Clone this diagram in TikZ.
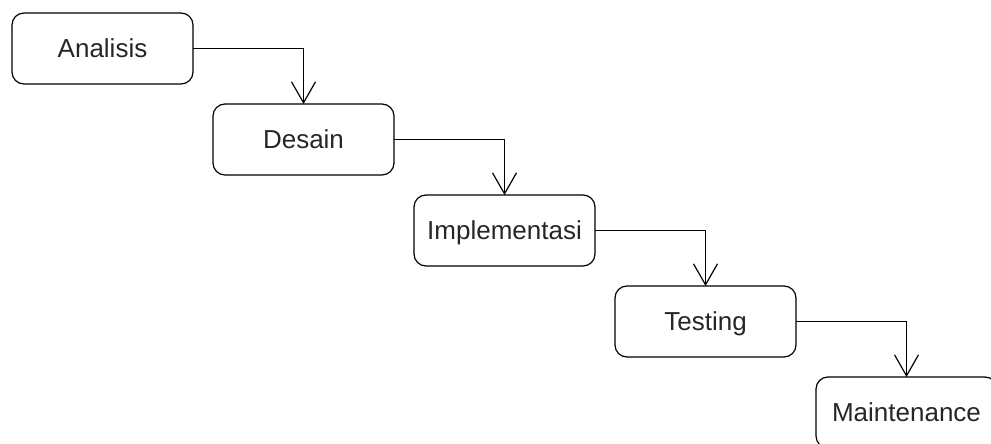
\documentclass[tikz,border=0pt]{standalone}
\usepackage{fontspec}
\setmainfont{Liberation Sans}
\usetikzlibrary{arrows.meta, positioning}

\begin{document}
\begin{tikzpicture}[node distance=20pt, every node/.style={font=\fontsize{26}{31}\selectfont}]
    \tikzstyle{stage} = [rectangle, rounded corners=12pt, draw=black, line width=1.2pt, minimum width=181pt, minimum height=71pt, text height=18.5pt, text depth=0pt, inner sep=0pt, outer sep=0pt, align=center, text=black!85]
    \tikzstyle{flow} = [-{Straight Barb[length=21pt,width=24pt]}, line width=1.2pt]

    \useasboundingbox (0,0) rectangle (991pt,-444pt);

    \node[stage, anchor=north west] (analisis) at (12pt,-13pt) {Analisis};
    \node[stage, below right=20pt and 20pt of analisis] (desain) {Desain};
    \node[stage, below right=20pt and 20pt of desain] (implementasi) {Implementasi};
    \node[stage, below right=20pt and 20pt of implementasi] (testing) {Testing};
    \node[stage, below right=20pt and 20pt of testing] (maintenance) {Maintenance};

    \draw[flow] (analisis) -| (desain);
    \draw[flow] (desain) -| (implementasi);
    \draw[flow] (implementasi) -| (testing);
    \draw[flow] (testing) -| (maintenance);
\end{tikzpicture}
\end{document}
